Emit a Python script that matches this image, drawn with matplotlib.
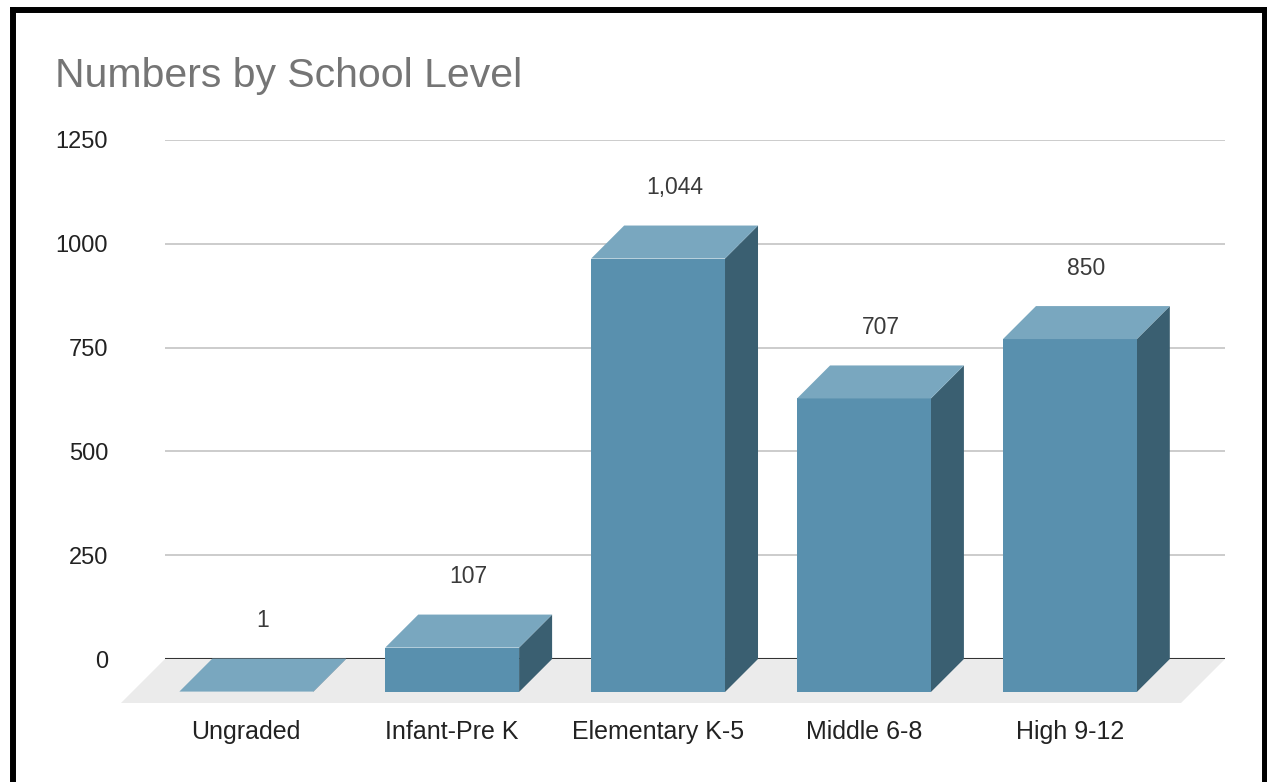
import matplotlib
matplotlib.use("Agg")
import matplotlib.pyplot as plt
from matplotlib.patches import Polygon
from matplotlib.lines import Line2D
from matplotlib.transforms import ScaledTranslation

levels = ["Ungraded", "Infant-Pre K", "Elementary K-5", "Middle 6-8", "High 9-12"]
counts = [1, 107, 1044, 707, 850]
value_labels = ["1", "107", "1,044", "707", "850"]
yticks = [0, 250, 500, 750, 1000, 1250]

front_col = "#5990ae"
top_col = "#79a7bf"
side_col = "#3a5f71"
floor_col = "#ebebeb"

plt.rcParams["font.family"] = ["Liberation Sans", "DejaVu Sans"]

fig = plt.figure(figsize=(12.67, 7.82), dpi=100)
ax = fig.add_axes([165 / 1267, 123 / 782, 1060 / 1267, 519 / 782])
ax.set_xlim(-0.555, 4.593)
ax.set_ylim(0, 1250)
for s in ax.spines.values():
    s.set_visible(False)

# depth of the 3d boxes in pixels -> data units
depth_px = 33
floor_px = 44
bbox = ax.get_window_extent()
px_x = bbox.width / (ax.get_xlim()[1] - ax.get_xlim()[0])
px_y = bbox.height / (ax.get_ylim()[1] - ax.get_ylim()[0])
ddx = depth_px / px_x
ddy = depth_px / px_y

# grid in the back plane
for t in yticks[1:]:
    ax.axhline(t, color="#cccccc", lw=1.4, zorder=1)

# floor
x0, x1 = ax.get_xlim()
fx = floor_px / px_x
fy = floor_px / px_y
ax.add_patch(Polygon([(x0, 0), (x1, 0), (x1 - fx, -fy), (x0 - fx, -fy)],
                     closed=True, color=floor_col, lw=0, clip_on=False, zorder=2))
ax.axhline(0, color="#333333", lw=1.5, zorder=3)

w = 0.65
for i, v in enumerate(counts):
    l, r = i - w / 2, i + w / 2
    front = [(l - ddx, -ddy), (r - ddx, -ddy), (r - ddx, v - ddy), (l - ddx, v - ddy)]
    top = [(l - ddx, v - ddy), (r - ddx, v - ddy), (r, v), (l, v)]
    side = [(r - ddx, -ddy), (r, 0), (r, v), (r - ddx, v - ddy)]
    ax.add_patch(Polygon(side, closed=True, color=side_col, lw=0, clip_on=False, zorder=4))
    ax.add_patch(Polygon(front, closed=True, color=front_col, lw=0, clip_on=False, zorder=5))
    ax.add_patch(Polygon(top, closed=True, color=top_col, lw=0, clip_on=False, zorder=5))
    ax.annotate(value_labels[i], (i, v), xytext=(-16.5, 38), textcoords="offset pixels",
                ha="center", va="center", fontsize=16.5, color="#3a3a3a", zorder=6)

ax.set_yticks(yticks)
ax.set_yticklabels([str(t) for t in yticks])
ax.set_xticks(range(len(levels)))
ax.set_xticklabels(levels)
ax.tick_params(axis="y", length=0, pad=41, labelsize=17, labelcolor="#222222")
ax.tick_params(axis="x", length=0, pad=44, labelsize=18, labelcolor="#222222")
shift = ScaledTranslation(-33 / 100, 0, fig.dpi_scale_trans)
for lab in ax.get_xticklabels():
    lab.set_transform(lab.get_transform() + shift)

fig.text(55 / 1267, 1 - 76 / 782, "Numbers by School Level", fontsize=29.5,
         color="#757575", ha="left", va="center")

# black frame (top, left, right)
top_y = 1 - 10 / 782
for xs, ys in [([10 / 1267, 1], [top_y] * 2),
               ([12.5 / 1267] * 2, [0, 1 - 7 / 782]),
               ([1 - 2.5 / 1267] * 2, [0, 1 - 7 / 782])]:
    fig.add_artist(Line2D(xs, ys, color="black", lw=4.3, transform=fig.transFigure,
                          solid_capstyle="butt"))

fig.savefig("out.png", dpi=100, facecolor="white")
